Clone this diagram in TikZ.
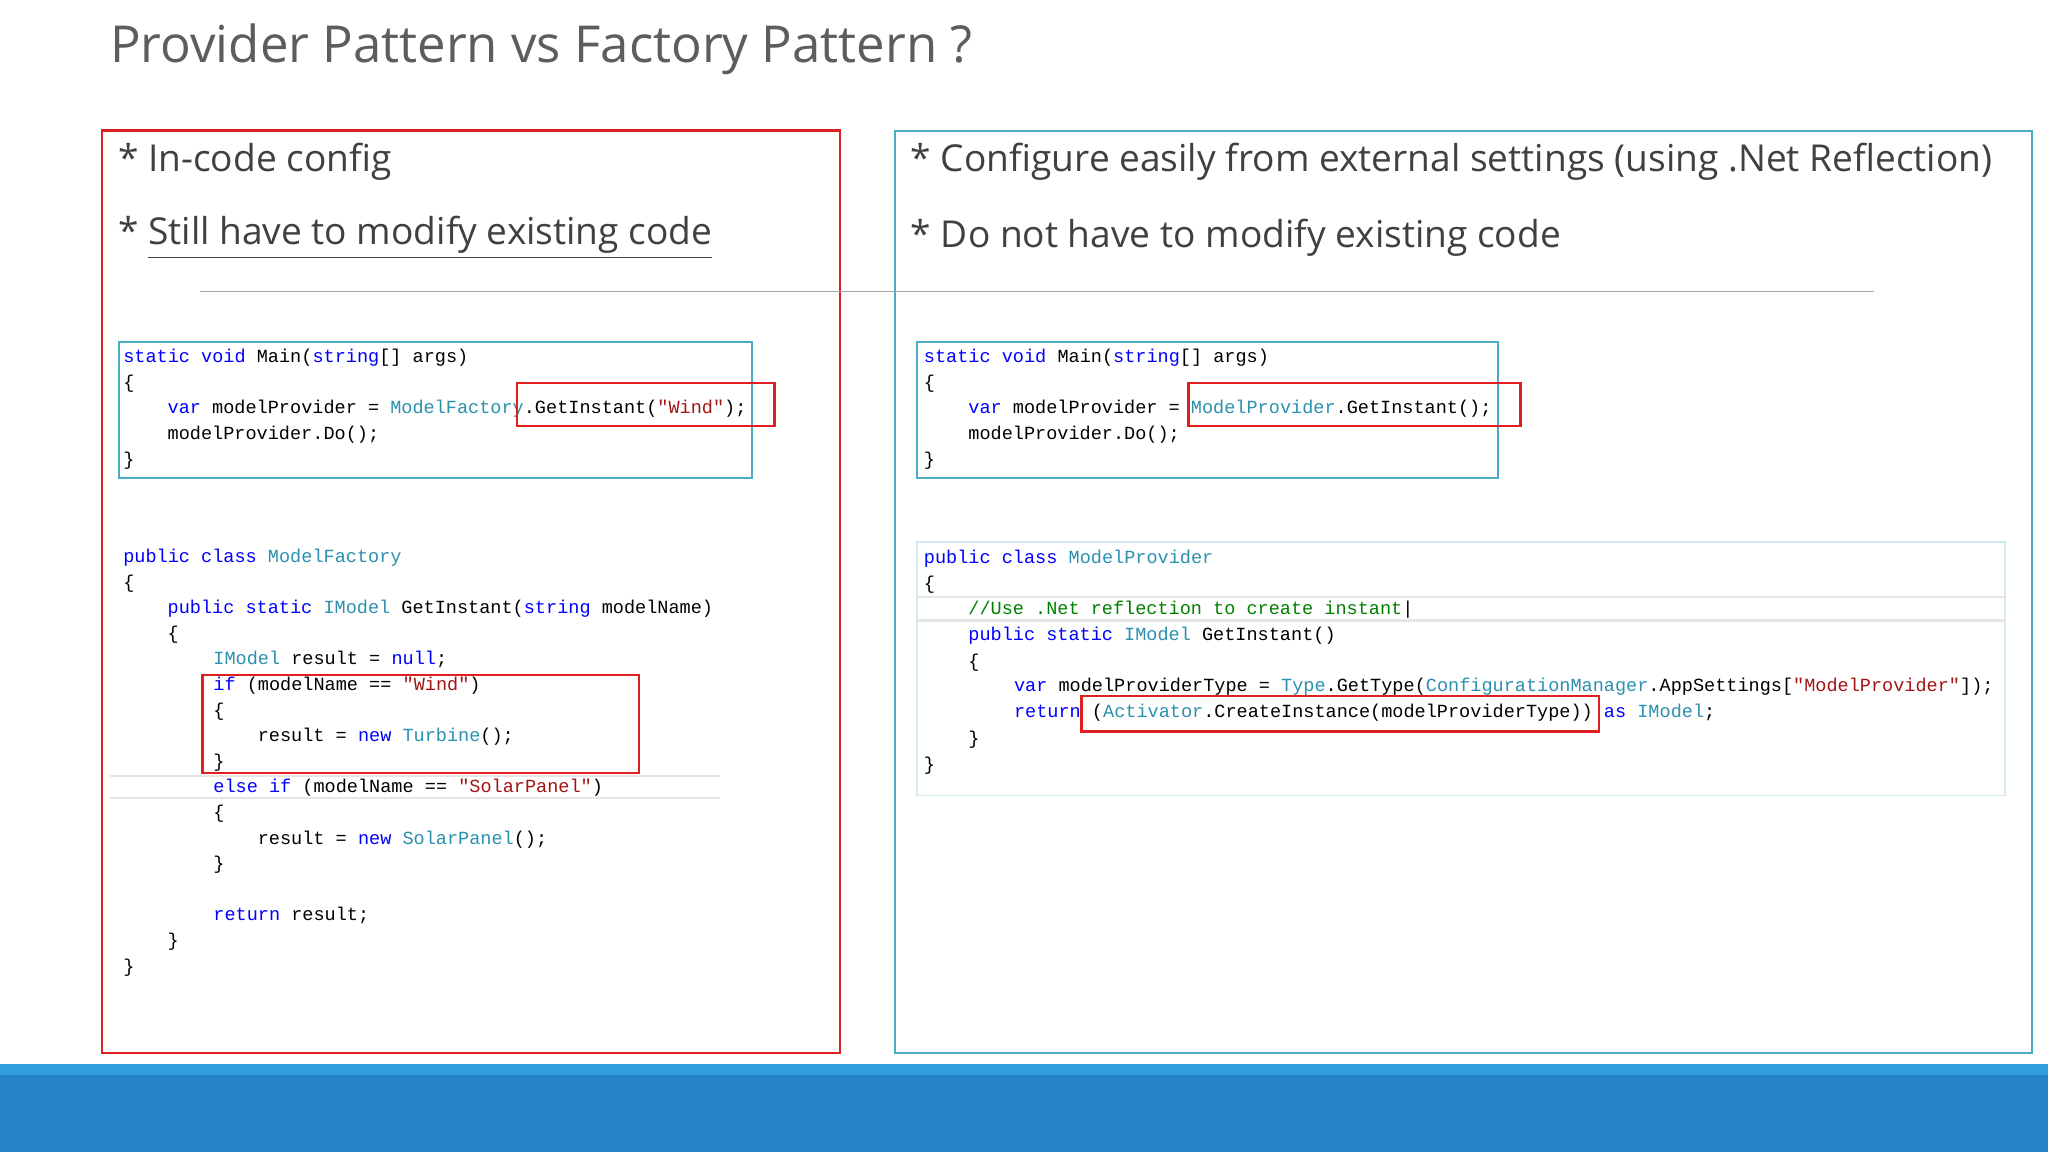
\documentclass[tikz,border=0pt]{standalone}
\usepackage{fontspec}
\setmainfont{Open Sans}
\setmonofont{Liberation Mono}
\definecolor{kw}{HTML}{0000FF}
\definecolor{ty}{HTML}{2B91AF}
\definecolor{st}{HTML}{A31515}
\definecolor{cm}{HTML}{008000}
\definecolor{redbox}{HTML}{E02020}
\definecolor{bluebox}{HTML}{4BACC6}
\definecolor{ttl}{HTML}{404040}
\definecolor{barlight}{HTML}{2E9FDB}
\definecolor{bardark}{HTML}{2484C6}
\newcommand\kw[1]{\textcolor{kw}{#1}}
\newcommand\ty[1]{\textcolor{ty}{#1}}
\newcommand\st[1]{\textcolor{st}{#1}}
\begin{document}
\begin{tikzpicture}[x=0.5pt,y=-0.5pt,
  code/.style={anchor=west,inner sep=0pt,font=\ttfamily\fontsize{7.1}{8}\selectfont},
  bullet/.style={anchor=west,inner sep=0pt,text=ttl,font=\fontsize{14.2}{17}\selectfont},
  redf/.style={draw=redbox,line width=0.9pt},
  bluef/.style={draw=bluebox,line width=0.7pt}]
\useasboundingbox (0,0) rectangle (1568,882);
\fill[white] (0,0) rectangle (1568,882);
\node[anchor=west,inner sep=0pt,text=ttl!85,font=\fontsize{19.5}{23}\selectfont] (title) at (84,38) {Provider Pattern vs Factory Pattern ?};
% panels
\draw[redf] (78,100) rectangle (643,806);
\draw[bluef] (685,100) rectangle (1556,806);
\draw[gray!70] (153,223) -- (1435,223);
\node[bullet] (b1) at (90,124) {* In-code config};
\node[bullet] (b2) at (90,182) {* \underline{Still have to modify existing code}};
\node[bullet] (b3) at (697,124) {* Configure easily from external settings (using .Net Reflection)};
\node[bullet] (b4) at (697,182) {* Do not have to modify existing code};
% left code 1
\draw[bluef] (91,262) rectangle (576,366);
\node[code] at (94,274) {\kw{static void} Main(\kw{string}[] args)};
\node[code] at (94,294) {\{};
\node[code] at (128,313) {\kw{var} modelProvider = \ty{ModelFactory}.GetInstant(\st{"Wind"});};
\node[code] at (128,333) {modelProvider.Do();};
\node[code] at (94,353) {\}};
\draw[redf] (396,293) rectangle (593,326);
% left code 2
\draw[gray!20,line width=1pt] (84,594) -- (551,594) (84,611) -- (551,611);
\node[code] at (94,427) {\kw{public class} \ty{ModelFactory}};
\node[code] at (94,447) {\{};
\node[code] at (128,466) {\kw{public static} \ty{IModel} GetInstant(\kw{string} modelName)};
\node[code] at (128,486) {\{};
\node[code] at (163,505) {\ty{IModel} result = \kw{null};};
\node[code] at (163,525) {\kw{if} (modelName == \st{"Wind"})};
\node[code] at (163,545) {\{};
\node[code] at (197,564) {result = \kw{new} \ty{Turbine}();};
\node[code] at (163,584) {\}};
\node[code] at (163,603) {\kw{else if} (modelName == \st{"SolarPanel"})};
\node[code] at (163,623) {\{};
\node[code] at (197,643) {result = \kw{new} \ty{SolarPanel}();};
\node[code] at (163,662) {\}};
\node[code] at (163,701) {\kw{return} result;};
\node[code] at (128,721) {\}};
\node[code] at (94,741) {\}};
\draw[redf] (155,517) rectangle (489,592);
% right code 1
\draw[bluef] (702,262) rectangle (1147,366);
\node[code] at (707,274) {\kw{static void} Main(\kw{string}[] args)};
\node[code] at (707,294) {\{};
\node[code] at (741,313) {\kw{var} modelProvider = \ty{ModelProvider}.GetInstant();};
\node[code] at (741,333) {modelProvider.Do();};
\node[code] at (707,353) {\}};
\draw[redf] (910,293) rectangle (1164,326);
% right code 2
\draw[bluebox!25,line width=0.7pt] (702,415) rectangle (1535,609);
\draw[gray!20,line width=1pt] (702,457) -- (1535,457) (702,475) -- (1535,475);
\node[code] at (707,428) {\kw{public class} \ty{ModelProvider}};
\node[code] at (707,448) {\{};
\node[code] at (741,467) {\textcolor{cm}{//Use .Net reflection to create instant}\textcolor{black}{|}};
\node[code] at (741,487) {\kw{public static} \ty{IModel} GetInstant()};
\node[code] at (741,507) {\{};
\node[code] at (776,526) {\kw{var} modelProviderType = \ty{Type}.GetType(\ty{ConfigurationManager}.AppSettings[\st{"ModelProvider"}]);};
\node[code] at (776,546) {\kw{return} (\ty{Activator}.CreateInstance(modelProviderType)) \kw{as} \ty{IModel};};
\node[code] at (741,566) {\}};
\node[code] at (707,586) {\}};
\draw[redf] (828,533) rectangle (1224,560);
% bottom bar
\fill[barlight] (0,815) rectangle (1568,823);
\fill[bardark] (0,823) rectangle (1568,882);
\end{tikzpicture}
\end{document}
